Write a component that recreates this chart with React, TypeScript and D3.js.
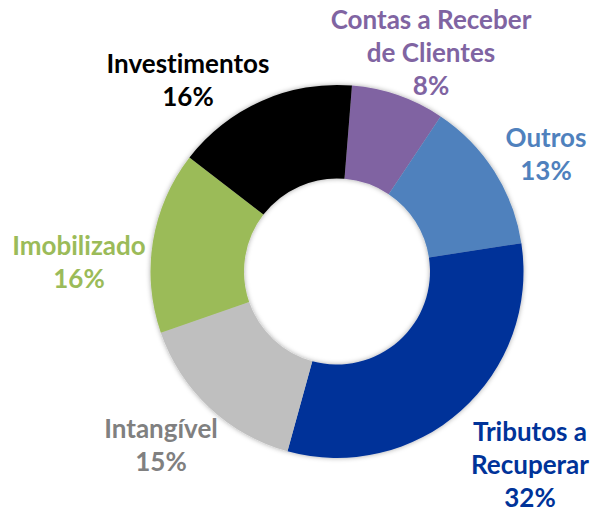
import React from "react";
import * as d3 from "d3";

const categories = [
  "Contas a Receber de Clientes",
  "Outros",
  "Tributos a Recuperar",
  "Intangível",
  "Imobilizado",
  "Investimentos",
];
const values = [8.1, 13.2, 31.7, 15.4, 15.8, 15.8];
const labelLines = [
  ["Contas a Receber", "de Clientes"],
  ["Outros"],
  ["Tributos a", "Recuperar"],
  ["Intangível"],
  ["Imobilizado"],
  ["Investimentos"],
];
const sliceColors = ["#8064A2", "#4F81BD", "#003399", "#BFBFBF", "#9BBB59", "#000000"];
const textColors = ["#8064A2", "#4F81BD", "#003399", "#808080", "#9BBB59", "#000000"];
// label anchor: x center, first baseline
const labelPos: [number, number][] = [
  [431, 29],
  [546, 147],
  [530, 441],
  [161, 438],
  [79, 255],
  [188, 73],
];

const W = 595;
const H = 514;
const cx = 337;
const cy = 271.5;
const R = 186.5;
const r = 93;
const startDeg = 4.6;
const lineH = 33;

export default function App() {
  const total = d3.sum(values);
  const pie = d3
    .pie<number>()
    .sort(null)
    .value((d) => d)
    .startAngle((startDeg * Math.PI) / 180)
    .endAngle((startDeg * Math.PI) / 180 + 2 * Math.PI);
  const arcs = pie(values);
  const arcGen = d3.arc<d3.PieArcDatum<number>>().innerRadius(r).outerRadius(R);

  return (
    <svg
      width={W}
      height={H}
      viewBox={`0 0 ${W} ${H}`}
      style={{ position: "absolute", left: 0, top: 0, background: "#fff" }}
    >
      <defs>
        <filter id="sh" x="-20%" y="-20%" width="140%" height="140%">
          <feDropShadow dx="0" dy="0" stdDeviation="2.5" floodColor="#000" floodOpacity="0.35" />
        </filter>
      </defs>
      <g transform={`translate(${cx},${cy})`} filter="url(#sh)">
        {arcs.map((a, i) => (
          <path key={categories[i]} d={arcGen(a) || ""} fill={sliceColors[i]} />
        ))}
      </g>
      <g
        style={{
          fontFamily: "Lato, 'Noto Sans', sans-serif",
          fontWeight: 700,
          fontSize: 26,
          fontVariantLigatures: "none",
        }}
        textAnchor="middle"
      >
        {categories.map((c, i) => {
          const [x, y] = labelPos[i];
          const lines = [...labelLines[i], `${Math.round((values[i] / total) * 100)}%`];
          return (
            <text key={c} x={x} y={y} fill={textColors[i]}>
              {lines.map((ln, j) => (
                <tspan key={j} x={x} dy={j === 0 ? 0 : lineH}>
                  {ln}
                </tspan>
              ))}
            </text>
          );
        })}
      </g>
    </svg>
  );
}
